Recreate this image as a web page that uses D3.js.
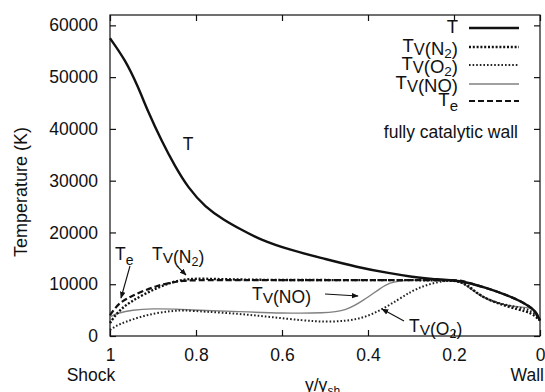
<!DOCTYPE html>
<html>
<head>
<meta charset="utf-8">
<script src="https://cdn.jsdelivr.net/npm/d3@7"></script>
<style>
  body { margin: 0; background: #fff; }
  text { font-family: "Liberation Sans", Arial, sans-serif; fill: #111; }
</style>
</head>
<body>
<div id="chart"></div>
<script>
// Data (x = y/y_sh, values in K)
var tX  = [1.0, 0.965, 0.935, 0.912, 0.879, 0.849, 0.819, 0.779, 0.733, 0.698, 0.651, 0.581, 0.505, 0.426, 0.349, 0.295, 0.256, 0.186, 0.123, 0.077, 0.04, 0.012, 0.005, 0];
var tV  = [57500, 53400, 48200, 43400, 37500, 32800, 28700, 24900, 22300, 20700, 18600, 16600, 15000, 13300, 12100, 11400, 11000, 10800, 9250, 7900, 6550, 5000, 3800, 3000];

var n2X = [1.0, 0.985, 0.97, 0.95, 0.92, 0.89, 0.86, 0.83, 0.8, 0.75, 0.7, 0.6, 0.4, 0.2, 0.18, 0.16, 0.14, 0.1, 0.05, 0.02, 0];
var n2V = [2500, 4300, 5500, 6700, 8100, 9300, 10300, 10900, 11100, 11000, 10900, 10800, 10800, 10800, 10400, 9300, 7800, 6300, 5100, 4500, 3000];

var o2X = [1.0, 0.985, 0.965, 0.93, 0.895, 0.86, 0.83, 0.78, 0.7, 0.63, 0.55, 0.5, 0.45, 0.41, 0.37, 0.33, 0.3, 0.27, 0.24, 0.21, 0.19, 0.17, 0.15, 0.12, 0.09, 0.05, 0.02, 0];
var o2V = [1200, 2000, 2700, 3700, 4400, 4800, 5000, 4700, 4300, 3700, 3000, 2700, 2900, 3500, 5000, 7000, 8600, 9700, 10400, 10800, 10600, 9800, 8400, 7000, 6200, 5500, 5000, 3300];

var noX = [1.0, 0.98, 0.95, 0.9, 0.85, 0.8, 0.7, 0.6, 0.5, 0.45, 0.41, 0.37, 0.35, 0.32, 0.3, 0.25, 0.2, 0.18, 0.16, 0.13, 0.1, 0.06, 0.03, 0.01, 0];
var noV = [3700, 4500, 5000, 5300, 5200, 5000, 4700, 4400, 4400, 4900, 6900, 9300, 10300, 10700, 10800, 10800, 10800, 10300, 9000, 7300, 6300, 5700, 5500, 5200, 3200];

var teX = [1.0, 0.985, 0.97, 0.95, 0.92, 0.89, 0.86, 0.83, 0.8, 0.6, 0.4, 0.25, 0.2, 0.186, 0.123, 0.077, 0.04, 0.012, 0];
var teV = [4000, 5800, 6800, 7700, 8800, 9700, 10300, 10700, 10800, 10800, 10800, 10800, 10800, 10800, 9250, 7900, 6550, 5000, 3000];

var yTicks = [0, 10000, 20000, 30000, 40000, 50000, 60000];
var xTicks = [1, 0.8, 0.6, 0.4, 0.2, 0];

var W = 545, H = 392;
var pLeft = 110, pRight = 540, pTop = 15, pBottom = 336;

var svg = d3.select("#chart").append("svg")
    .attr("width", W)
    .attr("height", H);

var defs = svg.append("defs");
defs.append("marker")
    .attr("id", "arr")
    .attr("viewBox", "0 0 10 10")
    .attr("refX", 9).attr("refY", 5)
    .attr("markerWidth", 7).attr("markerHeight", 7)
    .attr("markerUnits", "userSpaceOnUse")
    .attr("orient", "auto")
  .append("path")
    .attr("d", "M0,1 L10,5 L0,9 Z")
    .attr("fill", "#111");

var x = d3.scaleLinear().domain([1, 0]).range([pLeft, pRight]);
var y = d3.scaleLinear().domain([0, 62000]).range([pBottom, pTop]);

// frame
svg.append("rect")
    .attr("x", pLeft).attr("y", pTop)
    .attr("width", pRight - pLeft).attr("height", pBottom - pTop)
    .attr("fill", "none").attr("stroke", "#111").attr("stroke-width", 1.2);

// axes with inward ticks
var fs = 17.5;
var gY = svg.append("g").attr("transform", "translate(" + pLeft + ",0)")
    .call(d3.axisLeft(y).tickValues(yTicks).tickSize(-6).tickPadding(12).tickFormat(d3.format("d")));
var gYr = svg.append("g").attr("transform", "translate(" + pRight + ",0)")
    .call(d3.axisRight(y).tickValues(yTicks).tickSize(-6).tickFormat(""));
var gX = svg.append("g").attr("transform", "translate(0," + pBottom + ")")
    .call(d3.axisBottom(x).tickValues(xTicks).tickSize(-6).tickPadding(13).tickFormat(d3.format("")));
var gXt = svg.append("g").attr("transform", "translate(0," + pTop + ")")
    .call(d3.axisTop(x).tickValues(xTicks).tickSize(-6).tickFormat(""));

[gY, gYr, gX, gXt].forEach(function(g) {
  g.select(".domain").remove();
  g.selectAll(".tick line").attr("stroke", "#111").attr("stroke-width", 1.2);
  g.selectAll(".tick text").attr("font-size", fs).attr("font-family", "Liberation Sans, Arial, sans-serif").attr("fill", "#111");
});

// Shock / Wall labels
svg.append("text").attr("x", 91).attr("y", 381).attr("text-anchor", "middle")
    .attr("font-size", fs).text("Shock");
svg.append("text").attr("x", 544).attr("y", 381).attr("text-anchor", "end")
    .attr("font-size", fs).text("Wall");

// axis titles
var xl = svg.append("text").attr("x", 305).attr("y", 391).attr("font-size", fs);
xl.append("tspan").text("y/y");
xl.append("tspan").attr("dy", 4).attr("font-size", 12).text("sh");

svg.append("text")
    .attr("transform", "translate(27,192) rotate(-90)")
    .attr("text-anchor", "middle")
    .attr("font-size", 18)
    .text("Temperature (K)");

// series
function series(xs, vs) {
  return xs.map(function(d, i) { return [d, vs[i]]; });
}
var line = d3.line()
    .x(function(d) { return x(d[0]); })
    .y(function(d) { return y(d[1]); })
    .curve(d3.curveBasis);

var styles = [
  { data: series(noX, noV), stroke: "#808080", width: 1.4, dash: null },
  { data: series(o2X, o2V), stroke: "#222", width: 2, dash: "1.6,2" },
  { data: series(n2X, n2V), stroke: "#111", width: 2.4, dash: "2,1.8" },
  { data: series(teX, teV), stroke: "#111", width: 2.2, dash: "6,3" },
  { data: series(tX, tV), stroke: "#111", width: 2.4, dash: null }
];

svg.append("g").selectAll("path")
    .data(styles)
  .enter().append("path")
    .attr("d", function(d) { return line(d.data); })
    .attr("fill", "none")
    .attr("stroke", function(d) { return d.stroke; })
    .attr("stroke-width", function(d) { return d.width; })
    .attr("stroke-dasharray", function(d) { return d.dash; });

// T_V(species) label with subscripts
function tvLabel(sel, species, sub, size) {
  sel.append("tspan").text("T");
  sel.append("tspan").attr("dy", 3).attr("font-size", size - 2).text("V");
  sel.append("tspan").attr("font-size", size).text("(" + species);
  if (sub) sel.append("tspan").attr("dy", 3).attr("font-size", size - 5).text(sub);
  sel.append("tspan").attr("dy", sub ? -3 : 0).attr("font-size", size).text(")");
}

// legend
var lfs = 18.5;
var legendRows = [
  { y: 28, kind: "T", style: styles[4] },
  { y: 47, kind: "N", style: styles[2] },
  { y: 65, kind: "O", style: styles[1] },
  { y: 84, kind: "NO", style: styles[0] },
  { y: 101, kind: "e", style: styles[3] }
];

legendRows.forEach(function(r) {
  svg.append("line")
      .attr("x1", 469).attr("x2", 519).attr("y1", r.y).attr("y2", r.y)
      .attr("stroke", r.style.stroke)
      .attr("stroke-width", r.style.width)
      .attr("stroke-dasharray", r.style.dash);
  var t = svg.append("text").attr("x", 458).attr("y", r.y + 5)
      .attr("text-anchor", "end").attr("font-size", lfs);
  if (r.kind === "T") t.text("T");
  else if (r.kind === "N") tvLabel(t, "N", "2", lfs);
  else if (r.kind === "O") tvLabel(t, "O", "2", lfs);
  else if (r.kind === "NO") tvLabel(t, "NO", null, lfs);
  else {
    t.append("tspan").text("T");
    t.append("tspan").attr("dy", 5).attr("font-size", 15).text("e");
  }
});

svg.append("text").attr("x", 518).attr("y", 138).attr("text-anchor", "end")
    .attr("font-size", fs).text("fully catalytic wall");

// in-plot labels
svg.append("text").attr("x", 188).attr("y", 150).attr("text-anchor", "middle")
    .attr("font-size", fs).text("T");

var te = svg.append("text").attr("x", 115).attr("y", 260).attr("font-size", fs);
te.append("tspan").text("T");
te.append("tspan").attr("dy", 5).attr("font-size", 14).text("e");

tvLabel(svg.append("text").attr("x", 152).attr("y", 260).attr("font-size", fs), "N", "2", fs);
tvLabel(svg.append("text").attr("x", 252).attr("y", 300).attr("font-size", fs), "NO", null, fs);
tvLabel(svg.append("text").attr("x", 409).attr("y", 332).attr("font-size", fs), "O", "2", fs);

// arrows
var arrows = [
  [130, 266, 121, 298],
  [177, 266, 186, 275],
  [325, 294, 358, 296],
  [404, 321, 382, 309]
];
svg.append("g").selectAll("line")
    .data(arrows)
  .enter().append("line")
    .attr("x1", function(d) { return d[0]; })
    .attr("y1", function(d) { return d[1]; })
    .attr("x2", function(d) { return d[2]; })
    .attr("y2", function(d) { return d[3]; })
    .attr("stroke", "#111").attr("stroke-width", 1.1)
    .attr("marker-end", "url(#arr)");
</script>
</body>
</html>
